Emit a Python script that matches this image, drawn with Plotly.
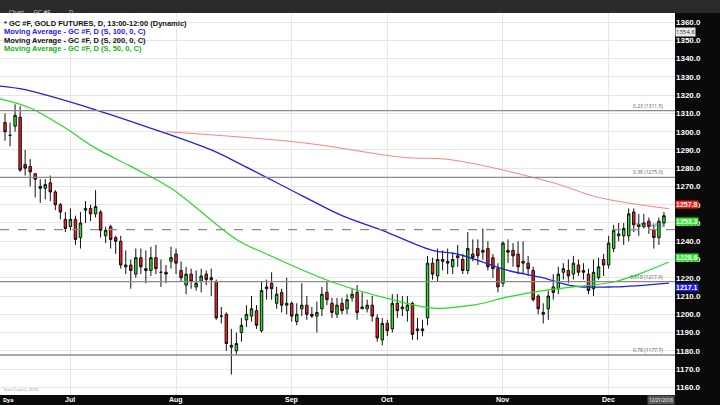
import pandas as pd
import plotly.graph_objects as go

# daily OHLC (GC #F, mid June to mid Dec 2018)
opens = [1305, 1298, 1303, 1308, 1282, 1281, 1277, 1269, 1269, 1272, 1267, 1260, 1252, 1248,
         1252, 1242, 1257, 1258, 1255, 1256, 1243, 1248, 1242, 1240, 1226, 1227, 1222, 1231,
         1224, 1224, 1231, 1223, 1223, 1229, 1233, 1224, 1216, 1222, 1215, 1218, 1222, 1220,
         1218, 1199, 1200, 1182, 1180, 1190, 1197, 1199, 1202, 1191, 1214, 1217, 1206, 1212,
         1205, 1206, 1196, 1203, 1205, 1200, 1199, 1203, 1212, 1206, 1200, 1206, 1203, 1209,
         1212, 1203, 1203, 1205, 1198, 1186, 1195, 1192, 1206, 1203, 1202, 1206, 1192, 1191,
         1198, 1228, 1221, 1229, 1229, 1226, 1231, 1230, 1224, 1233, 1236, 1234, 1236, 1231,
         1225, 1217, 1235, 1235, 1233, 1228, 1228, 1224, 1210, 1200, 1203, 1215, 1214, 1223,
         1224, 1222, 1227, 1224, 1222, 1214, 1220, 1230, 1227, 1236, 1243, 1243, 1243, 1256,
         1249, 1248, 1251, 1246, 1242, 1250]
highs = [1310, 1305, 1315, 1314, 1290, 1285, 1277, 1274, 1274, 1276, 1268, 1261, 1256, 1258,
         1254, 1256, 1262, 1260, 1268, 1257, 1248, 1249, 1243, 1243, 1235, 1230, 1236, 1236,
         1235, 1237, 1238, 1230, 1227, 1237, 1236, 1229, 1226, 1225, 1224, 1225, 1224, 1225,
         1219, 1204, 1201, 1192, 1190, 1198, 1205, 1210, 1205, 1218, 1219, 1223, 1215, 1214,
         1220, 1207, 1206, 1217, 1210, 1204, 1207, 1215, 1218, 1209, 1209, 1209, 1211, 1214,
         1216, 1212, 1208, 1210, 1200, 1198, 1197, 1211, 1211, 1210, 1210, 1207, 1198, 1197,
         1232, 1231, 1236, 1235, 1236, 1234, 1238, 1233, 1245, 1241, 1241, 1247, 1240, 1233,
         1228, 1240, 1241, 1239, 1240, 1240, 1232, 1226, 1211, 1206, 1213, 1222, 1226, 1228,
         1230, 1232, 1230, 1228, 1225, 1230, 1231, 1233, 1243, 1249, 1250, 1250, 1258, 1258,
         1255, 1255, 1253, 1249, 1253, 1256]
lows = [1295, 1292, 1300, 1278, 1276, 1270, 1264, 1261, 1263, 1262, 1257, 1252, 1245, 1246,
        1238, 1236, 1250, 1251, 1253, 1242, 1239, 1236, 1233, 1225, 1222, 1214, 1220, 1222,
        1217, 1221, 1222, 1215, 1217, 1225, 1222, 1218, 1211, 1214, 1213, 1212, 1216, 1210,
        1197, 1195, 1180, 1167, 1178, 1185, 1193, 1196, 1192, 1190, 1208, 1208, 1203, 1201,
        1200, 1196, 1194, 1199, 1197, 1198, 1190, 1199, 1205, 1198, 1198, 1200, 1200, 1207,
        1197, 1203, 1201, 1196, 1185, 1183, 1188, 1190, 1198, 1199, 1196, 1186, 1186, 1188,
        1194, 1219, 1218, 1224, 1222, 1222, 1226, 1222, 1222, 1229, 1227, 1230, 1224, 1220,
        1212, 1215, 1228, 1226, 1222, 1222, 1221, 1207, 1200, 1195, 1197, 1208, 1211, 1219,
        1217, 1219, 1221, 1219, 1211, 1210, 1219, 1221, 1225, 1234, 1240, 1238, 1240, 1245,
        1243, 1247, 1244, 1236, 1238, 1248]
closes = [1300, 1298, 1309, 1279, 1280, 1278, 1274, 1270, 1271, 1267, 1260, 1256, 1247, 1252,
          1241, 1250, 1258, 1255, 1259, 1246, 1246, 1241, 1240, 1227, 1227, 1224, 1231, 1226,
          1225, 1231, 1225, 1223, 1222, 1231, 1228, 1220, 1222, 1218, 1217, 1221, 1219, 1219,
          1198, 1199, 1184, 1183, 1184, 1194, 1200, 1203, 1194, 1213, 1215, 1214, 1211, 1205,
          1206, 1199, 1200, 1205, 1200, 1199, 1201, 1211, 1208, 1201, 1205, 1202, 1208, 1211,
          1201, 1204, 1205, 1199, 1187, 1195, 1191, 1206, 1202, 1204, 1205, 1189, 1191, 1192,
          1228, 1222, 1230, 1230, 1228, 1230, 1232, 1224, 1236, 1231, 1232, 1235, 1226, 1225,
          1215, 1239, 1234, 1232, 1226, 1229, 1225, 1208, 1203, 1201, 1210, 1212, 1222, 1225,
          1221, 1228, 1223, 1223, 1213, 1223, 1226, 1227, 1239, 1246, 1244, 1247, 1255, 1249,
          1248, 1250, 1248, 1242, 1251, 1254]

# moving averages: (bar index, value)
ma100_idx = [-1, 4, 18, 31, 41, 47, 59, 67, 75, 85, 90, 100, 107, 113, 121, 132]
ma100_val = [1325, 1323, 1312, 1300, 1290, 1282, 1265, 1254, 1246, 1235, 1233, 1224, 1220, 1215.5, 1215, 1217.1]
ma200_idx = [32, 59, 79, 89, 109, 118, 132]
ma200_val = [1300, 1294, 1286, 1284.5, 1272, 1264, 1257.8]
ma50_idx = [-1, 5, 12, 18, 25, 33, 46, 52, 65, 77, 85, 93, 100, 107, 113, 121, 126, 132]
ma50_val = [1318, 1313, 1302, 1291, 1281, 1269, 1241, 1233, 1217.7, 1208, 1203.4, 1205, 1209.5, 1213, 1215, 1217.7, 1222, 1228.6]

# horizontal retracement levels
fib_levels = [1311.5, 1275.0, 1246.4, 1217.9, 1177.7]
fib_labels = ["0.23 (1311.5)", "0.38 (1275.0)", "0.5 (1246.4)", "0.618 (1217.9)", "0.78 (1177.7)"]

price_ticks = list(range(1160, 1370, 10))

dates = pd.bdate_range("2018-06-13", periods=200)
dates = dates[~dates.isin(pd.to_datetime(["2018-07-04", "2018-09-03", "2018-11-22"]))][:len(closes)]
idx = list(range(len(closes)))
month_pos = [i for i in idx[1:] if dates[i].month != dates[i - 1].month]
month_lab = [dates[i].strftime("%b") for i in month_pos]

fig = go.Figure()

# retracement lines
for lv, lab in zip(fib_levels, fib_labels):
    fig.add_hline(y=lv, line_color="#8c8c8c", line_width=1.3,
                  line_dash="dash" if lv == 1246.4 else "solid")
    fig.add_annotation(x=0.985, xref="paper", y=lv, yref="y", text=lab, showarrow=False,
                       xanchor="right", yanchor="bottom", font=dict(size=5, color="#555"))

fig.add_trace(go.Candlestick(
    x=idx, open=opens, high=highs, low=lows, close=closes,
    increasing=dict(line=dict(color="#111", width=1), fillcolor="#22e622"),
    decreasing=dict(line=dict(color="#111", width=1), fillcolor="#ff1a1a"),
    whiskerwidth=0, showlegend=False))

fig.add_trace(go.Scatter(x=ma200_idx, y=ma200_val, mode="lines", line=dict(color="#ff8080", width=1, shape="spline")))
fig.add_trace(go.Scatter(x=ma100_idx, y=ma100_val, mode="lines", line=dict(color="#2020e0", width=1.3, shape="spline")))
fig.add_trace(go.Scatter(x=ma50_idx, y=ma50_val, mode="lines", line=dict(color="#22dd22", width=1.2, shape="spline")))

# price tags on the right axis
tags = [(1257.8, "#ff1a1a", "bottom"), (1253.3, "#22e622", "top"),
        (1228.6, "#22e622", "bottom"), (1217.1, "#2020e0", "top")]
for val, col, ya in tags:
    fig.add_annotation(x=1.0, xref="paper", y=val, yref="y", text=f"<b>{val:.1f}</b>", showarrow=False,
                       xanchor="left", yanchor=ya, bgcolor=col, font=dict(size=7, color="white", family="Arial"),
                       borderpad=0)
fig.add_annotation(x=1.0, xref="paper", y=1354.8, yref="y", text="1354.8", showarrow=False,
                   xanchor="left", bgcolor="#e8e8e8", font=dict(size=6, color="#333"), borderpad=0)

# legend lines top-left
legend_lines = [("* GC #F, GOLD FUTURES, D, 13:00-12:00 (Dynamic)", "#111"),
                ("Moving Average - GC #F, D (S, 100, 0, C)", "#1a1aff"),
                ("Moving Average - GC #F, D (S, 200, 0, C)", "#111"),
                ("Moving Average - GC #F, D (S, 50, 0, C)", "#13b313")]
for k, (txt, col) in enumerate(legend_lines):
    fig.add_annotation(x=0.003, xref="paper", y=0.99 - k * 0.022, yref="paper", text=f"<b>{txt}</b>",
                       showarrow=False, xanchor="left", yanchor="top",
                       font=dict(size=7.5, color=col, family="Arial"))

# month labels in the bottom bar
for pos, lab in zip(month_pos, month_lab):
    fig.add_annotation(x=pos, xref="x", y=-0.013, yref="paper", text=f"<b>{lab}</b>", showarrow=False,
                       yanchor="middle", font=dict(size=7, color="white", family="Arial"))
fig.add_annotation(x=0.002, xref="paper", y=-0.013, yref="paper", text="<b>Dya</b>", showarrow=False,
                   xanchor="left", yanchor="middle", font=dict(size=5.5, color="white"))
fig.add_annotation(x=1.0, xref="paper", y=-0.013, yref="paper", text="12/21/2018", showarrow=False,
                   xanchor="right", yanchor="middle", bgcolor="#555", font=dict(size=4.5, color="white"))

# toolbar
fig.add_shape(type="rect", xref="paper", yref="paper", x0=-0.01, x1=1.1, y0=1.0, y1=1.04,
              fillcolor="#2b2b2b", line_width=0, layer="above")
fig.add_annotation(x=0.01, xref="paper", y=1.018, yref="paper", text="Chart      GC #F            D",
                   showarrow=False, xanchor="left", font=dict(size=6, color="#ddd"))
fig.add_annotation(x=0.003, xref="paper", y=0.003, yref="paper", text="Gain Capital, 2018",
                   showarrow=False, xanchor="left", yanchor="bottom", font=dict(size=4, color="#999"))

fig.update_layout(
    width=720, height=405,
    margin=dict(l=0, r=45, t=13, b=10, autoexpand=False),
    paper_bgcolor="#0a0a0a", plot_bgcolor="white",
    showlegend=False,
    xaxis=dict(range=[-1, 133.2], tickvals=month_pos, showticklabels=False, automargin=False,
               showgrid=True, gridcolor="#e6e6e6", ticks="", rangeslider=dict(visible=False),
               zeroline=False),
    yaxis=dict(range=[1155.8, 1365], side="right", tickvals=price_ticks, automargin=False,
               ticktext=[f"<b>{p:.1f}</b>" for p in price_ticks],
               tickfont=dict(size=8, color="white", family="Arial"),
               showgrid=True, gridcolor="#e6e6e6", zeroline=False),
)

# drop the page's default body margin so the figure sits at the window corner
fig.write_html("out.html", config={"displayModeBar": False},
               post_script="document.body.style.margin='0';")
